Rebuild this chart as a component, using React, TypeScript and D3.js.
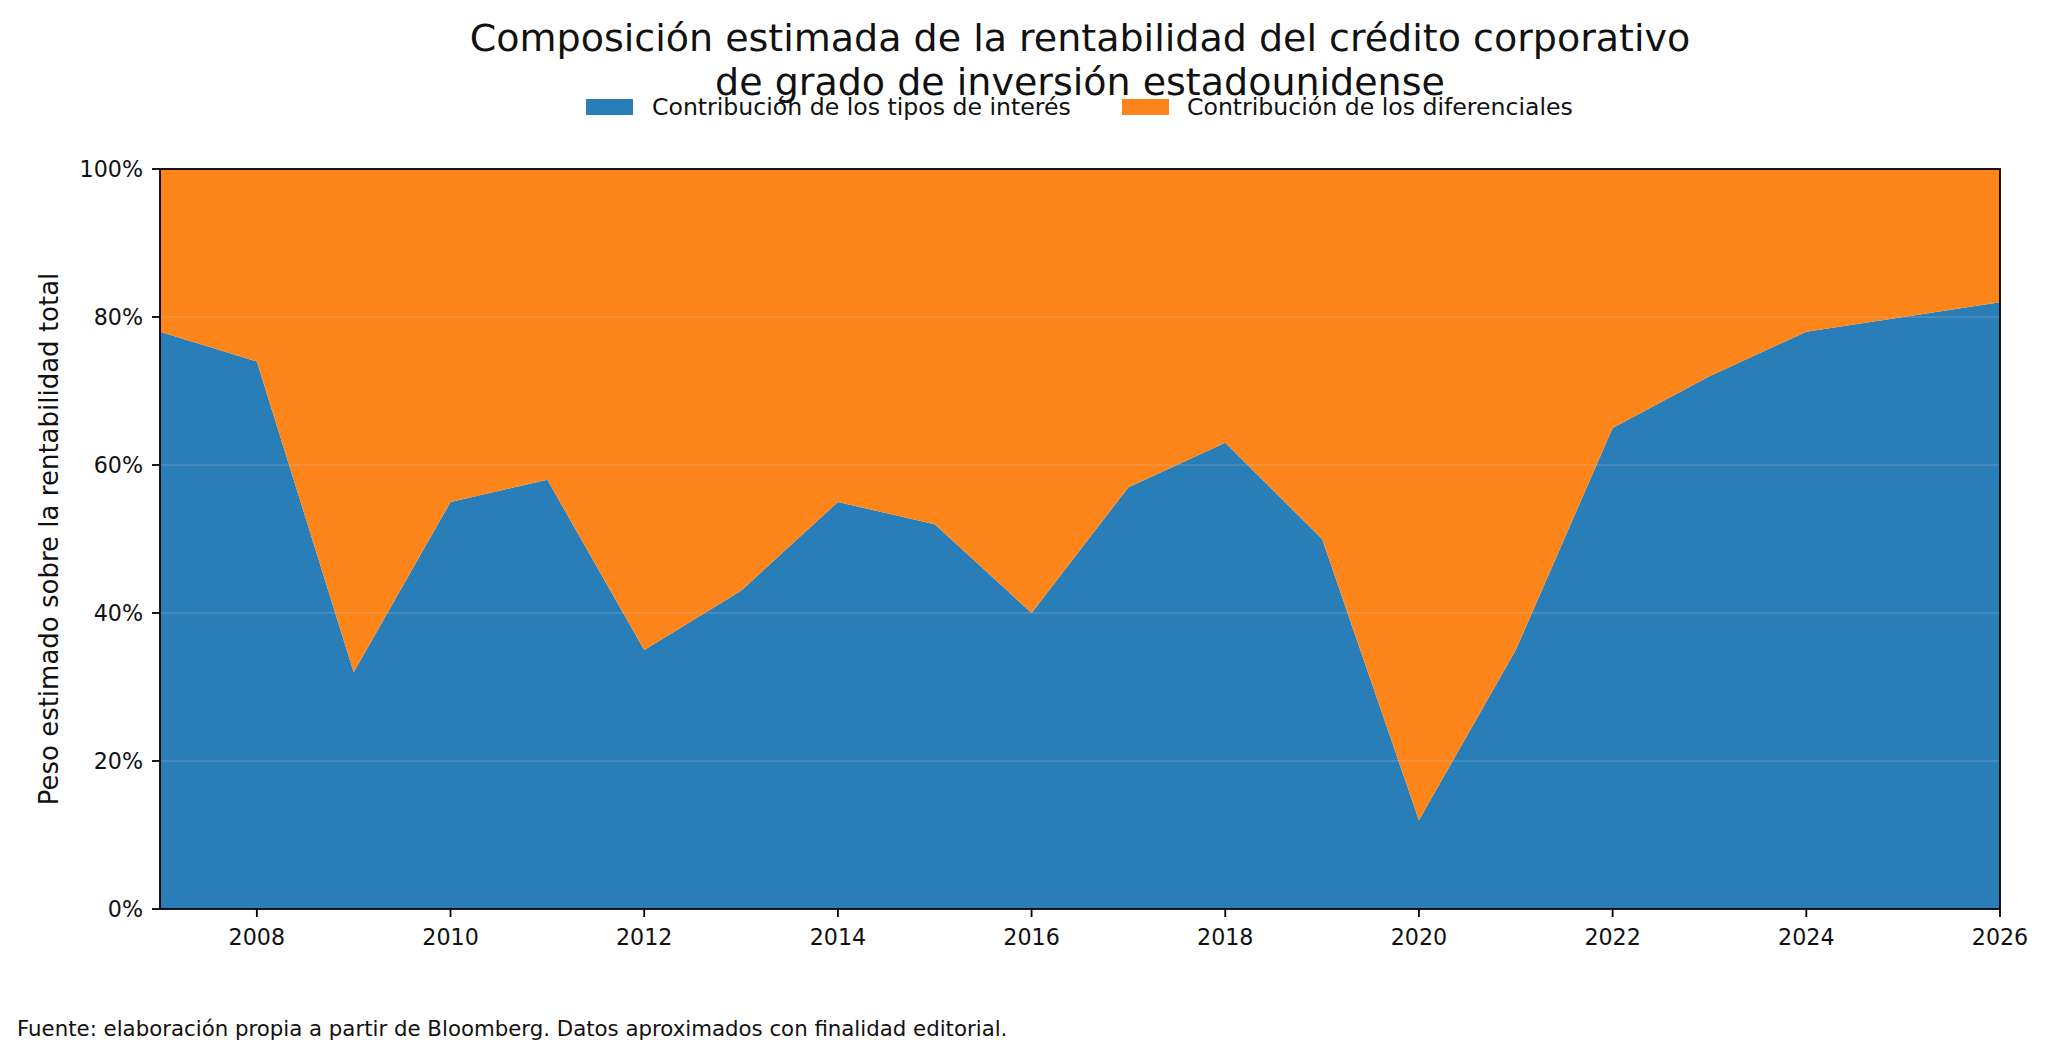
import * as d3 from 'd3';

// --- data ---
const years = [2007, 2008, 2009, 2010, 2011, 2012, 2013, 2014, 2015, 2016, 2017, 2018, 2019, 2020, 2021, 2022, 2023, 2024, 2025, 2026];
const rateShare = [78, 74, 32, 55, 58, 35, 43, 55, 52, 40, 57, 63, 50, 12, 35, 65, 72, 78, 80, 82];
const xTicks = [2008, 2010, 2012, 2014, 2016, 2018, 2020, 2022, 2024, 2026];
const yTicks = [0, 20, 40, 60, 80, 100];
const seriesNames = ['Contribución de los tipos de interés', 'Contribución de los diferenciales'];
const seriesColors = ['#2a7eb8', '#fd851a'];

const titleLines = [
  'Composición estimada de la rentabilidad del crédito corporativo',
  'de grado de inversión estadounidense',
];
const yLabel = 'Peso estimado sobre la rentabilidad total';
const footer = 'Fuente: elaboración propia a partir de Bloomberg. Datos aproximados con finalidad editorial.';

const W = 2048;
const H = 1058;
const margin = { left: 160, right: 48, top: 169, bottom: 149 };
const FONT = '"DejaVu Sans", sans-serif';

function App() {
  const x = d3.scaleLinear().domain([2007, 2026]).range([margin.left, W - margin.right]);
  const y = d3.scaleLinear().domain([0, 100]).range([H - margin.bottom, margin.top]);

  const rows = years.map((yr, i) => ({ yr, v: rateShare[i] }));

  const blueArea = d3.area<{ yr: number; v: number }>()
    .x(d => x(d.yr))
    .y0(y(0))
    .y1(d => y(d.v));

  const orangeArea = d3.area<{ yr: number; v: number }>()
    .x(d => x(d.yr))
    .y0(d => y(d.v))
    .y1(y(100));

  const [x0, x1] = x.range();
  const [yb, yt] = y.range();

  return (
    <svg width={W} height={H} style={{ position: 'absolute', left: 0, top: 0, background: '#fff' }} fontFamily={FONT}>
      {/* title (the second line sits on the legend, as in the source) */}
      <text x={(x0 + x1) / 2} y={51} textAnchor="middle" fontSize={38} fill="#111">{titleLines[0]}</text>
      <text x={(x0 + x1) / 2} y={95} textAnchor="middle" fontSize={38} fill="#111">{titleLines[1]}</text>

      {/* legend */}
      <rect x={586} y={99} width={47} height={16} fill={seriesColors[0]} />
      <text x={652} y={115} fontSize={23.6} fill="#111">{seriesNames[0]}</text>
      <rect x={1122} y={99} width={47} height={16} fill={seriesColors[1]} />
      <text x={1187} y={115} fontSize={23.6} fill="#111">{seriesNames[1]}</text>

      {/* stacked areas */}
      <path d={blueArea(rows) ?? ''} fill={seriesColors[0]} />
      <path d={orangeArea(rows) ?? ''} fill={seriesColors[1]} />

      {/* grid */}
      {yTicks.filter(t => t > 0 && t < 100).map(t => (
        <line key={t} x1={x0} x2={x1} y1={y(t)} y2={y(t)} stroke="#cccccc" strokeOpacity={0.35} strokeWidth={1.2} />
      ))}

      {/* frame */}
      <rect x={x0} y={yt} width={x1 - x0} height={yb - yt} fill="none" stroke="#000" strokeWidth={1.8} />

      {/* y axis */}
      {yTicks.map(t => (
        <g key={t}>
          <line x1={x0 - 8} x2={x0} y1={y(t)} y2={y(t)} stroke="#000" strokeWidth={1.8} />
          <text x={x0 - 17} y={y(t)} dy="0.35em" textAnchor="end" fontSize={22.2} fill="#111">{`${t}%`}</text>
        </g>
      ))}
      <text transform={`translate(58,${(yt + yb) / 2}) rotate(-90)`} textAnchor="middle" fontSize={26} fill="#111">{yLabel}</text>

      {/* x axis */}
      {xTicks.map(t => (
        <g key={t}>
          <line x1={x(t)} x2={x(t)} y1={yb} y2={yb + 8} stroke="#000" strokeWidth={1.8} />
          <text x={x(t)} y={945} textAnchor="middle" fontSize={22.2} fill="#111">{t}</text>
        </g>
      ))}

      {/* footer */}
      <text x={17} y={1036} fontSize={21.3} fill="#111">{footer}</text>
    </svg>
  );
}

export default App;
